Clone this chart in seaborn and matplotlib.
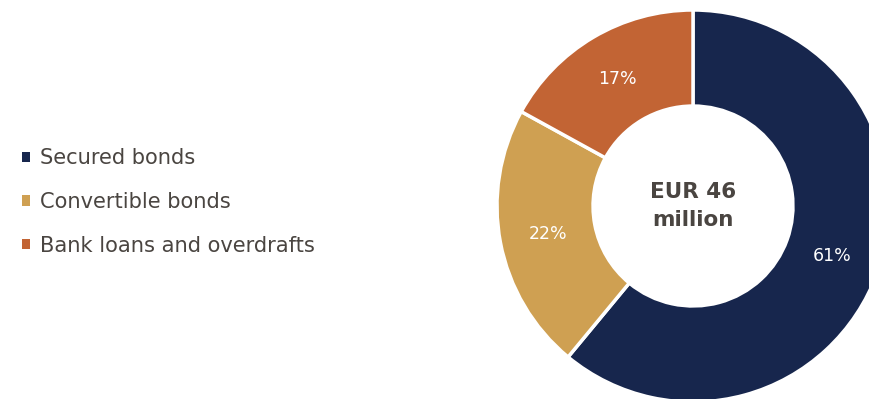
import matplotlib
matplotlib.use("Agg")
import matplotlib.pyplot as plt
import seaborn as sns

categories = ["Secured bonds", "Convertible bonds", "Bank loans and overdrafts"]
shares = [61, 22, 17]
colors = ["#17264d", "#cfa052", "#c26434"]
center_label = "EUR 46\nmillion"

sns.set_theme(style="white")
plt.rcParams["font.family"] = ["DejaVu Sans"]

W, H = 869, 399
fig = plt.figure(figsize=(W / 100, H / 100), dpi=100)
fig.patch.set_facecolor("white")

cx, cy, r = 693, 206, 196
ax = fig.add_axes([(cx - r) / W, (H - cy - r) / H, 2 * r / W, 2 * r / H])
ax.set_axis_off()

wedges, texts, autotexts = ax.pie(
    shares,
    colors=colors,
    startangle=90,
    counterclock=False,
    radius=1.0,
    autopct=lambda p: f"{p:.0f}%",
    pctdistance=0.755,
    wedgeprops=dict(width=0.49, edgecolor="white", linewidth=2.5),
    textprops=dict(color="white", fontsize=12.5),
)
ax.set_xlim(-1, 1)
ax.set_ylim(-1, 1)
ax.text(0, 0.0, center_label, ha="center", va="center", fontsize=15.5,
        fontweight="bold", color="#4a4541", linespacing=1.55)

leg = fig.legend(
    wedges, categories,
    loc="upper left",
    bbox_to_anchor=(14 / W, 1 - 140 / H),
    frameon=False,
    fontsize=15.1,
    handlelength=0.38,
    handleheight=0.38,
    handletextpad=0.45,
    labelspacing=1.13,
    borderaxespad=0,
)
for t in leg.get_texts():
    t.set_color("#4a4541")
for h in leg.legend_handles:
    h.set_linewidth(0)

fig.savefig("out.png", dpi=100)
